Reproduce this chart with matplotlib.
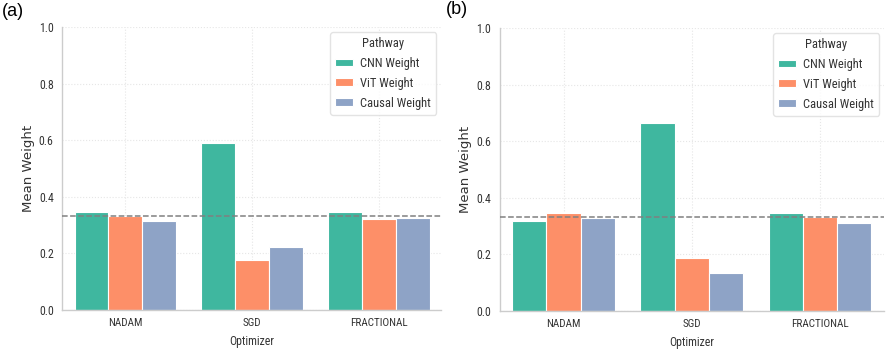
import numpy as np
import matplotlib.pyplot as plt

# dados
optimizers = ["NADAM", "SGD", "FRACTIONAL"]
pathways = ["CNN Weight", "ViT Weight", "Causal Weight"]

cnn_a = [0.346, 0.591, 0.346]
vit_a = [0.332, 0.175, 0.323]
causal_a = [0.315, 0.221, 0.325]

cnn_b = [0.318, 0.664, 0.347]
vit_b = [0.346, 0.187, 0.331]
causal_b = [0.328, 0.136, 0.312]

baseline = 1 / 3

colors = ["#3fb79f", "#fd8f68", "#8ea3c6"]
narrow = ["Roboto Condensed", "Liberation Sans", "DejaVu Sans"]

fig = plt.figure(figsize=(8.86, 3.54), dpi=100)
ax_a = fig.add_axes([62 / 886, 1 - 310 / 354, 379 / 886, 283 / 354])
ax_b = fig.add_axes([499.5 / 886, 1 - 311 / 354, 384.5 / 886, 283 / 354])


def draw_panel(ax, series, xmax):
    x = np.arange(len(optimizers))
    w = 0.8 / 3
    for i, (vals, name) in enumerate(zip(series, pathways)):
        ax.bar(x + (i - 1) * w, vals, width=w, color=colors[i],
               edgecolor="white", linewidth=0.8, label=name, zorder=2)
    ax.axhline(baseline, color="#808080", linestyle="--", linewidth=1.1, zorder=3)

    ax.set_xlim(-0.5, xmax)
    ax.set_ylim(0, 1.0)
    ax.set_xticks(x)
    ax.set_xticklabels(optimizers, fontfamily=narrow, fontsize=8, color="#333333")
    ax.set_yticks(np.arange(0, 1.01, 0.2))
    ax.set_yticklabels([f"{v:.1f}" for v in np.arange(0, 1.01, 0.2)],
                       fontfamily=narrow, fontsize=8.5, color="#333333")
    ax.tick_params(length=0, pad=6)
    ax.set_xlabel("Optimizer", fontfamily=narrow, fontsize=8.5, color="#333333", labelpad=5)
    ax.set_ylabel("Mean Weight", fontsize=9.5, color="#333333", labelpad=3)

    ax.grid(True, color="#e6e6e6", linestyle=":", linewidth=0.8, zorder=0)
    ax.set_axisbelow(True)
    for s in ["top", "right"]:
        ax.spines[s].set_visible(False)
    for s in ["left", "bottom"]:
        ax.spines[s].set_color("#cccccc")
        ax.spines[s].set_linewidth(1.0)

    leg = ax.legend(title="Pathway", loc="upper right", bbox_to_anchor=(1.0, 1.0),
                    prop={"family": narrow, "size": 9}, handlelength=1.4,
                    handleheight=0.6, handletextpad=0.6, labelspacing=0.55,
                    frameon=True, fancybox=True, edgecolor="#dddddd",
                    borderpad=0.4, borderaxespad=0.4)
    leg.get_title().set_fontfamily(narrow)
    leg.get_title().set_fontsize(9)
    leg.get_title().set_color("#333333")
    for t in leg.get_texts():
        t.set_color("#333333")


draw_panel(ax_a, [cnn_a, vit_a, causal_a], 2.49)
draw_panel(ax_b, [cnn_b, vit_b, causal_b], 2.5)

fig.text(2 / 886, 1 - 3 / 354, "(a)", fontfamily="Liberation Sans", fontsize=13, va="top", ha="left")
fig.text(446 / 886, 1 - 1 / 354, "(b)", fontfamily="Liberation Sans", fontsize=13, va="top", ha="left")

fig.savefig("out.png", dpi=100)
